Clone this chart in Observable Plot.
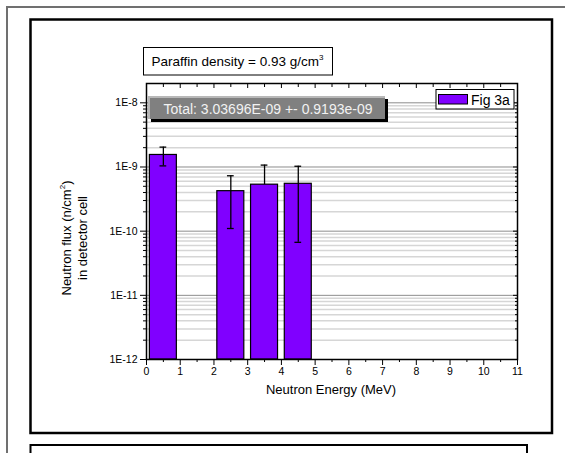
<!DOCTYPE html>
<html><head><meta charset="utf-8">
<script src="https://cdn.jsdelivr.net/npm/d3@7"></script>
<script src="https://cdn.jsdelivr.net/npm/@observablehq/plot@0.6"></script>
<style>
body{margin:0;background:#fff;}
svg{display:block;}
</style>
</head><body><div id="chart"></div>
<script>
// ---- data ----
const energyCenters = [0.5, 2.5, 3.5, 4.5];          // MeV bin centres
const flux = [1.54e-9, 4.2e-10, 5.3e-10, 5.47e-10];   // n/cm^2
const fluxErr = [0.5e-9, 3.1e-10, 5.4e-10, 4.8e-10];
const binWidth = 0.8;
const xTicks = [0,1,2,3,4,5,6,7,8,9,10,11];
const xMinorTicks = [0.5,1.5,2.5,3.5,4.5,5.5,6.5,7.5,8.5,9.5,10.5];
const yMajorTicks = [1e-12, 1e-11, 1e-10, 1e-9, 1e-8];
const yDomain = [1e-12, 2e-8];
const titleMain = "Paraffin density = 0.93 g/cm";
const titleSup = "3";
const totalText = "Total: 3.03696E-09 +- 0.9193e-09";
const legendLabel = "Fig 3a";
const xLabel = "Neutron Energy (MeV)";
const yLabelLine1 = "Neutron flux (n/cm";
const yLabelSup = "2";
const yLabelLine2 = "in detector cell";

const yMinorTicks = [];
for (const d of yMajorTicks) for (let m = 2; m <= 9; m++) if (d * m < yDomain[1]) yMinorTicks.push(d * m);

const bars = energyCenters.map((c, i) => ({
  c, x1: c - binWidth / 2, x2: c + binWidth / 2,
  v: flux[i], lo: flux[i] - fluxErr[i], hi: flux[i] + fluxErr[i]
}));
const capHalf = 0.1;
const violet = "#8000ff";
const font = "'Liberation Sans', Arial, sans-serif";

const chart = Plot.plot({
  width: 565, height: 453,
  marginLeft: 146, marginRight: 48, marginTop: 83, marginBottom: 94,
  style: {fontFamily: font, fontSize: "10px", background: "white", color: "black"},
  x: {domain: [0, 11]},
  y: {type: "log", domain: yDomain},
  marks: [
    Plot.ruleY(yMinorTicks, {stroke: "#d6d6d6", strokeWidth: 1.5}),
    Plot.ruleY(yMajorTicks, {stroke: "#8c8c8c", strokeWidth: 1}),
    Plot.rect(bars, {x1: "x1", x2: "x2", y1: yDomain[0], y2: "v", fill: violet, stroke: "black", strokeWidth: 1.2}),
    Plot.ruleX(bars, {x: "c", y1: d => d.lo > 0 ? d.lo : d.v, y2: "hi", stroke: "black", strokeWidth: 1.3}),
    Plot.ruleY(bars, {y: "hi", x1: d => d.c - capHalf, x2: d => d.c + capHalf, stroke: "black", strokeWidth: 1.3}),
    Plot.ruleY(bars.filter(d => d.lo > 0), {y: "lo", x1: d => d.c - capHalf, x2: d => d.c + capHalf, stroke: "black", strokeWidth: 1.3}),
    Plot.frame({stroke: "black", strokeWidth: 1.5}),
    Plot.axisX({anchor: "bottom", ticks: xTicks, tickFormat: d => String(d), tickSize: 6, tickPadding: 2, label: null, fontSize: 10.5}),
    Plot.axisX({anchor: "bottom", ticks: xMinorTicks, tickSize: 3, fill: "none", label: null}),
    Plot.axisX({anchor: "top", ticks: xTicks, tickSize: -4, fill: "none", label: null}),
    Plot.axisX({anchor: "top", ticks: xMinorTicks, tickSize: -3, fill: "none", label: null}),
    Plot.axisY({anchor: "left", ticks: yMajorTicks, tickFormat: d => "1E" + Math.round(Math.log10(d)), tickSize: 6, tickPadding: 3, label: null, fontSize: 10.5}),
    Plot.axisY({anchor: "left", ticks: yMinorTicks, tickSize: 3, fill: "none", label: null}),
    Plot.axisY({anchor: "right", ticks: yMajorTicks, tickSize: -5, fill: "none", label: null}),
    Plot.axisY({anchor: "right", ticks: yMinorTicks, tickSize: -3, fill: "none", label: null})
  ]
});
document.getElementById("chart").appendChild(chart);

// ---- decorations (frames, boxes, titles) ----
const svg = d3.select(chart);
const back = svg.insert("g", ":first-child");
back.append("path").attr("d", "M7,460V7H570").attr("fill", "none").attr("stroke", "#707070").attr("stroke-width", 2);
back.append("rect").attr("x", 30.5).attr("y", 19.5).attr("width", 521.5).attr("height", 413.5)
  .attr("fill", "none").attr("stroke", "black").attr("stroke-width", 2.5);
back.append("path").attr("d", "M30.5,460V445H527V460").attr("fill", "none").attr("stroke", "black").attr("stroke-width", 2);

const front = svg.append("g").style("font-family", font).attr("text-anchor", "start");
// title box
front.append("rect").attr("x", 143.5).attr("y", 47.5).attr("width", 189).attr("height", 27.5)
  .attr("fill", "white").attr("stroke", "black").attr("stroke-width", 1);
const tt = front.append("text").attr("x", 151.5).attr("y", 66).attr("text-anchor", "start")
  .attr("font-size", 13.5).attr("fill", "black");
tt.append("tspan").text(titleMain);
tt.append("tspan").attr("font-size", 8).attr("dy", -6).text(titleSup);

// total box (shadow + grey panel)
front.append("rect").attr("x", 151).attr("y", 99).attr("width", 237).attr("height", 23).attr("fill", "black");
front.append("rect").attr("x", 148).attr("y", 96).attr("width", 237).attr("height", 23).attr("fill", "#808080");
front.append("path").attr("d", "M149,119V97H385").attr("fill", "none").attr("stroke", "#b8b8b8").attr("stroke-width", 2);
front.append("text").attr("x", 268).attr("y", 108.5).attr("text-anchor", "middle").attr("dominant-baseline", "central")
  .attr("font-size", 14).attr("fill", "#f2f2f2").text(totalText);

// legend
front.append("rect").attr("x", 436).attr("y", 89.5).attr("width", 78).attr("height", 19.5)
  .attr("fill", "white").attr("stroke", "black").attr("stroke-width", 1);
front.append("rect").attr("x", 438.5).attr("y", 94.5).attr("width", 29).attr("height", 9.5)
  .attr("fill", violet).attr("stroke", "black").attr("stroke-width", 1);
front.append("text").attr("x", 471).attr("y", 99.5).attr("text-anchor", "start").attr("dominant-baseline", "central")
  .attr("font-size", 14).attr("fill", "black").text(legendLabel);

// axis titles
front.append("text").attr("x", 331).attr("y", 389).attr("text-anchor", "middle").attr("dominant-baseline", "central")
  .attr("font-size", 13).attr("fill", "black").text(xLabel);
const y1t = front.append("text").attr("transform", "translate(71,238) rotate(-90)").attr("text-anchor", "middle")
  .attr("font-size", 13).attr("fill", "black");
y1t.append("tspan").text(yLabelLine1);
y1t.append("tspan").attr("font-size", 8).attr("dy", -6).text(yLabelSup);
y1t.append("tspan").attr("dy", 6).text(")");
front.append("text").attr("transform", "translate(87,238) rotate(-90)").attr("text-anchor", "middle")
  .attr("font-size", 13).attr("fill", "black").text(yLabelLine2);
</script>
</body></html>
